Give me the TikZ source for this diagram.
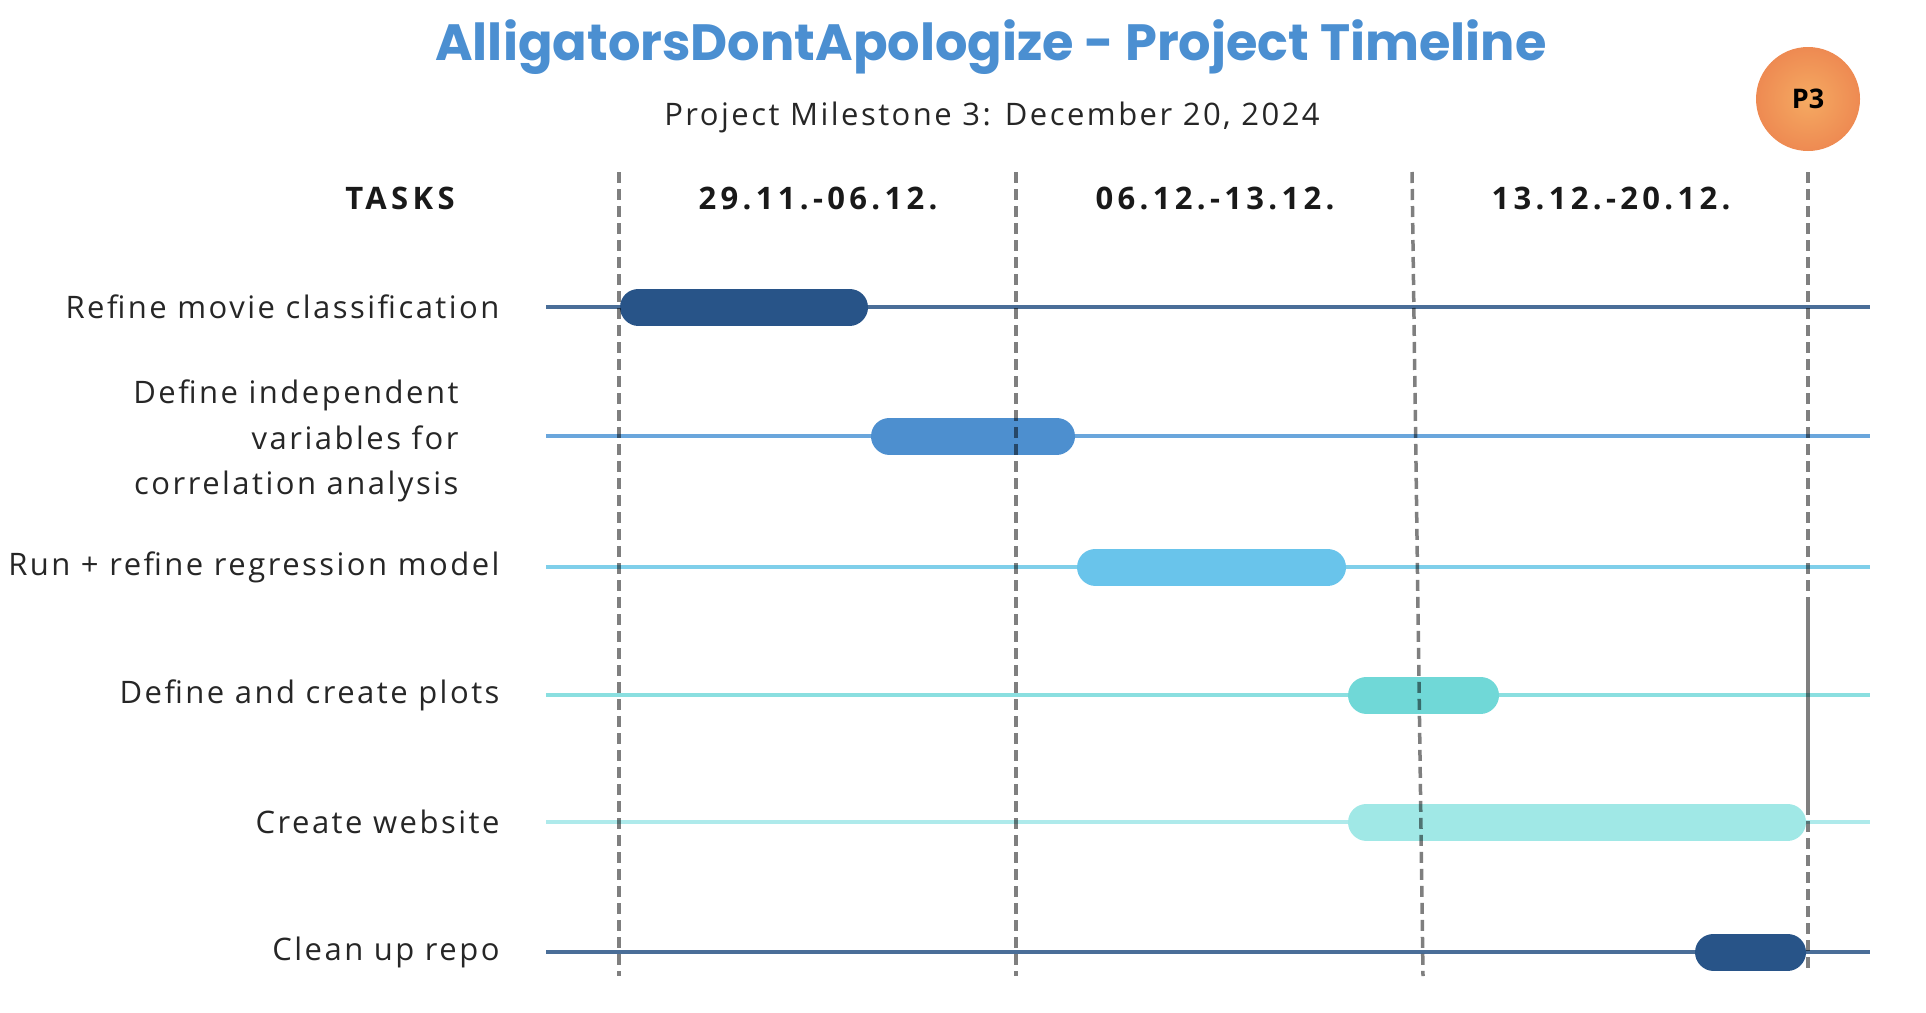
\documentclass[tikz,border=0pt]{standalone}
\usepackage{fontspec}
\setmainfont{Open Sans}
\newfontfamily\titlefont{Poppins}
\newfontfamily\headfont[LetterSpace=14]{Open Sans}
\newfontfamily\taskfont[LetterSpace=8]{Open Sans}
\usetikzlibrary{calc}

\definecolor{titleblue}{HTML}{4B8FD1}
\definecolor{navybar}{HTML}{285488}
\definecolor{navyline}{HTML}{4A6E98}
\definecolor{bluebar}{HTML}{4D8FCF}
\definecolor{blueline}{HTML}{6AA6DC}
\definecolor{skybar}{HTML}{69C4EB}
\definecolor{skyline}{HTML}{7FCFEA}
\definecolor{tealbar}{HTML}{70D8D7}
\definecolor{tealline}{HTML}{8ADFE0}
\definecolor{icebar}{HTML}{A0E8E6}
\definecolor{iceline}{HTML}{AEEAEB}
\definecolor{orangein}{HTML}{F5AA62}
\definecolor{orangeout}{HTML}{EE8A52}

\def\taskrow(#1)(#2:#3)#4#5{\draw[#4, line width=4pt] (546,#1) -- (1870,#1);
  \draw[#5, line width=37pt, line cap=round] ({#2+18.5},#1) -- ({#3-18.5},#1);}

\begin{document}
\begin{tikzpicture}[x=1pt, y=-1pt,
    title/.style={text=titleblue, font=\titlefont\bfseries\fontsize{51}{54}\selectfont},
    subtitle/.style={text=black!85, font=\taskfont\fontsize{31}{34}\selectfont},
    head/.style={text=black!90, font=\headfont\bfseries\fontsize{31}{34}\selectfont},
    task/.style={text=black!85, anchor=east, align=right, font=\taskfont\fontsize{31}{45.6}\selectfont},
    week/.style={black, opacity=0.5, line width=3.5pt, dash pattern=on 11pt off 6pt}]
				\useasboundingbox (0,0) rectangle (1926,1012);
				
				\node[title] (title) at (991,47) {AlligatorsDontApologize - Project Timeline};
				\node[subtitle] (sub) at (992,117) {Project Milestone 3: December 20, 2024};
				\node[circle, minimum size=104, inner sep=0, shading=radial, inner color=orangein, outer color=orangeout,
				      font=\bfseries\fontsize{27}{30}\selectfont] (p3) at (1808,99) {P3};
				
				\node[head] (tasks) at (400,198) {TASKS};
				\node[head] (wk1) at (818,198) {29.11.-06.12.};
				\node[head] (wk2) at (1215,198) {06.12.-13.12.};
				\node[head] (wk3) at (1611,198) {13.12.-20.12.};
				
				\taskrow(307)(620:868){navyline}{navybar}
				\taskrow(436)(871:1075){blueline}{bluebar}
				\taskrow(567)(1077:1346){skyline}{skybar}
				\taskrow(695)(1348:1499){tealline}{tealbar}
				\taskrow(822)(1348:1806){iceline}{icebar}
				\taskrow(952)(1695:1806){navyline}{navybar}
				
				\node[task] (t1) at (503,307) {Refine movie classification};
				\node[task] (t2) at (462,441) {Define independent\\variables for\\correlation analysis};
				\node[task] (t3) at (503,567) {Run + refine regression model};
				\node[task] (t4) at (503,695) {Define and create plots};
				\node[task] (t5) at (503,822) {Create website};
				\node[task] (t6) at (503,952) {Clean up repo};
				
				\draw[week] (619,172) -- (619,976);
				\draw[week] (1016,172) -- (1016,976);
				\draw[week] (1412,172) -- (1423,976);
				\draw[week] (1808,172) -- (1808,602);
				\draw[black, opacity=0.5, line width=3.5pt] (1808,602) -- (1808,804);
				\draw[week] (1808,804) -- (1808,970);
			\end{tikzpicture}
\end{document}
